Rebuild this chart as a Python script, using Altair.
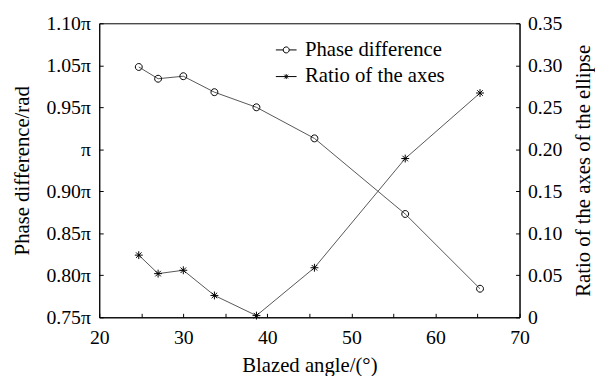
import altair as alt
import pandas as pd

# ---- data ----
angles = [24.7, 27.0, 30.0, 33.7, 38.7, 45.6, 56.4, 65.3]
phase_pi = [1.048, 1.034, 1.037, 1.018, 1.000, 0.963, 0.873, 0.784]
ratio = [0.074, 0.052, 0.056, 0.026, 0.002, 0.059, 0.189, 0.267]
series_names = ["Phase difference", "Ratio of the axes"]

left_ticks = [0.75, 0.80, 0.85, 0.90, 0.95, 1.00, 1.05, 1.10]
left_labels = ["0.75π", "0.80π", "0.85π", "0.90π", "π", "0.95π", "1.05π", "1.10π"]
right_ticks = [0, 0.05, 0.10, 0.15, 0.20, 0.25, 0.30, 0.35]
right_labels = ["0", "0.05", "0.10", "0.15", "0.20", "0.25", "0.30", "0.35"]
x_ticks = [20, 25, 30, 35, 40, 45, 50, 55, 60, 65, 70]

df_phase = pd.DataFrame({"angle": angles, "value": phase_pi, "series": series_names[0]})
df_ratio = pd.DataFrame({"angle": angles, "value": ratio, "series": series_names[1]})

FONT = "Liberation Serif"
W, H = 426, 298

circle_path = "M0.875,0A0.875,0.875,0,1,1,-0.875,0A0.875,0.875,0,1,1,0.875,0Z"
star_path = "M0,-1L0,1M-1,0L1,0M-0.7,-0.7L0.7,0.7M-0.7,0.7L0.7,-0.7"
leg_circle = "M-1,0L-0.29,0M0.29,0L1,0M0.29,0A0.29,0.29,0,1,1,-0.29,0A0.29,0.29,0,1,1,0.29,0"
leg_star = "M-1,0L1,0M0,-0.24L0,0.24M-0.18,-0.18L0.18,0.18M-0.18,0.18L0.18,-0.18"

left_expr = "[" + ",".join("'%s'" % s for s in left_labels) + "][round((datum.value-0.75)/0.05)]"
right_expr = "[" + ",".join("'%s'" % s for s in right_labels) + "][round(datum.value/0.05)]"

x_enc = alt.X(
    "angle:Q",
    scale=alt.Scale(domain=[20, 70], nice=False),
    axis=alt.Axis(
        values=x_ticks,
        labelExpr="datum.value % 10 == 0 ? datum.label : ''",
        title="Blazed angle/(°)",
        tickSize={"expr": "-4"},
        labelPadding=15,
        labelFlush=False,
        titleY=49,
        titleBaseline="middle",
    ),
)

y_left = alt.Y(
    "value:Q",
    scale=alt.Scale(domain=[0.75, 1.10], nice=False, zero=False),
    axis=alt.Axis(
        orient="left",
        values=left_ticks,
        labelExpr=left_expr,
        title="Phase difference/rad",
        tickSize={"expr": "-4"},
        labelPadding=13,
        labelFlush=False,
        titleAngle=270,
        titleX=-77.5,
        titleY=H / 2,
        titleBaseline="middle",
    ),
)

y_right = alt.Y(
    "value:Q",
    scale=alt.Scale(domain=[0, 0.35], nice=False),
    axis=alt.Axis(
        orient="right",
        values=right_ticks,
        labelExpr=right_expr,
        title="Ratio of the axes of the ellipse",
        tickSize={"expr": "-4"},
        labelPadding=12,
        labelFlush=False,
        titleAngle=270,
        titleX=65,
        titleY=H / 2,
        titleBaseline="middle",
    ),
)

line_color = "#555555"

phase_line = alt.Chart(df_phase).mark_line(color=line_color, strokeWidth=1).encode(x=x_enc, y=y_left)
phase_pts = alt.Chart(df_phase).mark_point(
    filled=False, color="black", size=64, strokeWidth=1, opacity=1, shape=circle_path
).encode(x=x_enc, y=y_left)

# legend-only layer (zero-size marks) that carries the series legend
legend_layer = alt.Chart(df_phase).mark_point(filled=False, color="black", strokeWidth=1, opacity=1).encode(
    x=x_enc,
    y=y_left,
    size=alt.value(0),
    shape=alt.Shape(
        "series:N",
        scale=alt.Scale(domain=series_names, range=[leg_circle, leg_star]),
        legend=alt.Legend(
            title=None,
            orient="none",
            legendX=178.5,
            legendY=16,
            symbolSize=441,
            symbolStrokeColor="black",
            symbolStrokeWidth=1,
            symbolFillColor="transparent",
            symbolOpacity=1,
            labelFont=FONT,
            labelFontSize=21,
            labelColor="black",
            labelOffset=8,
            rowPadding=6,
        ),
    ),
)

ratio_line = alt.Chart(df_ratio).mark_line(color=line_color, strokeWidth=1).encode(x=x_enc, y=y_right)
ratio_pts = alt.Chart(df_ratio).mark_point(
    filled=False, color="black", size=64, strokeWidth=1, opacity=1, shape=star_path
).encode(x=x_enc, y=y_right)

left = alt.layer(phase_line, phase_pts, legend_layer)
right = alt.layer(ratio_line, ratio_pts)

chart = (
    alt.layer(left, right)
    .resolve_scale(y="independent")
    .properties(
        width=W,
        height=H,
        autosize=alt.AutoSizeParams(type="none"),
        padding={"left": 92.5, "top": 13, "right": 76.5, "bottom": 57},
    )
    .configure(background="white")
    .configure_view(stroke="black", strokeWidth=1)
    .configure_axis(
        grid=False,
        domainColor="black",
        domainWidth=1,
        tickColor="black",
        tickWidth=1,
        labelFont=FONT,
        labelFontSize=20,
        labelColor="black",
        titleFont=FONT,
        titleFontSize=21,
        titleFontWeight="normal",
        titleColor="black",
    )
)

chart.save("out.html", embed_options={"renderer": "svg", "actions": False})
